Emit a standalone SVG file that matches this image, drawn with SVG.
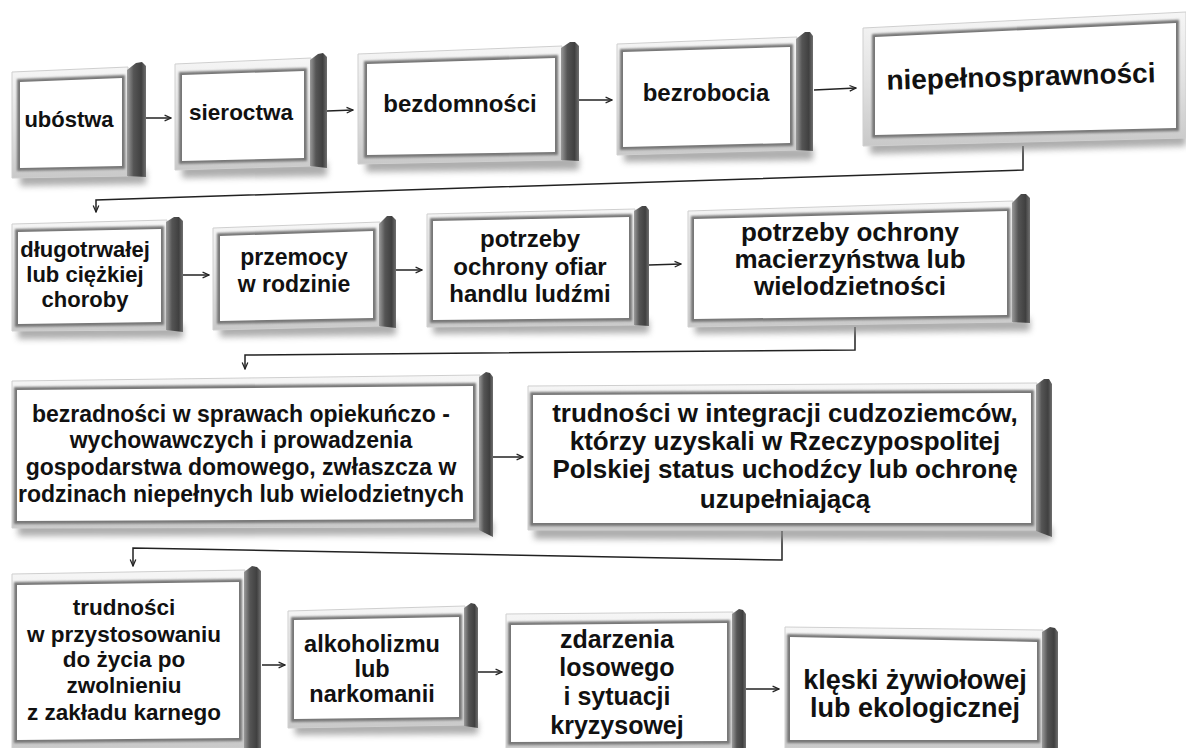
<svg xmlns="http://www.w3.org/2000/svg" width="1186" height="748" viewBox="0 0 1186 748">
<style>
.fr{fill:url(#fg);stroke:#cfcfcf;stroke-width:1}
.rim{fill:none;stroke:#777;stroke-width:6;filter:url(#br)}
.in{fill:#ffffff}
.side{fill:url(#sg)}
.sh{fill:#8a8a8a;opacity:.7;filter:url(#bs)}
.t{font-family:"Liberation Sans",Arial,sans-serif;font-weight:bold;fill:#111;text-anchor:middle}
.c{fill:none;stroke:#222;stroke-width:1.5}
</style>
<defs>
<linearGradient id="fg" x1="0" y1="0" x2="0" y2="1">
<stop offset="0" stop-color="#f6f6f6"/><stop offset="0.5" stop-color="#e2e2e2"/><stop offset="1" stop-color="#c9c9c9"/>
</linearGradient>
<linearGradient id="sg" x1="0" y1="0" x2="1" y2="0">
<stop offset="0" stop-color="#9a9a9a"/><stop offset="0.35" stop-color="#555"/><stop offset="0.75" stop-color="#404040"/><stop offset="1" stop-color="#707070"/>
</linearGradient>
<filter id="br" x="-5%" y="-5%" width="110%" height="110%"><feGaussianBlur stdDeviation="1.3"/></filter>
<filter id="bs" x="-5%" y="-50%" width="110%" height="200%"><feGaussianBlur stdDeviation="3"/></filter>
<marker id="ah" viewBox="0 0 10 10" refX="9" refY="5" markerWidth="8" markerHeight="8" orient="auto" markerUnits="userSpaceOnUse">
<path d="M1,1.5 L9,5 L1,8.5" fill="none" stroke="#222" stroke-width="1.6"/>
</marker>
</defs>
<rect width="1186" height="748" fill="#ffffff"/>

<g id="connectors">
<path class="c" marker-end="url(#ah)" d="M146,118 L171,118"/>
<path class="c" marker-end="url(#ah)" d="M327,111 L353,110"/>
<path class="c" marker-end="url(#ah)" d="M579,100 L612,100"/>
<path class="c" marker-end="url(#ah)" d="M814,90 L856,88"/>
<path class="c" marker-end="url(#ah)" d="M1023,146 L1023,170 L96,200 L96,212"/>
<path class="c" marker-end="url(#ah)" d="M183,275 L209,275"/>
<path class="c" marker-end="url(#ah)" d="M396,270 L422,270"/>
<path class="c" marker-end="url(#ah)" d="M649,265 L681,264"/>
<path class="c" marker-end="url(#ah)" d="M855,327 L855,350 L245,355 L245,369"/>
<path class="c" marker-end="url(#ah)" d="M493,457 L523,457"/>
<path class="c" marker-end="url(#ah)" d="M782,531 L782,560 L133,548 L133,566"/>
<path class="c" marker-end="url(#ah)" d="M262,665 L285,665"/>
<path class="c" marker-end="url(#ah)" d="M478,672 L502,672"/>
<path class="c" marker-end="url(#ah)" d="M746,689 L779,689"/>
</g>

<g id="n1">
<polygon class="sh" points="20,172 146,170 146,184 20,186"/>
<polygon class="fr" points="12,72 128,67 128,176 12,178"/>
<polygon class="rim" points="20,82 122,78 122,166 20,168"/>
<polygon class="in" points="20,82 122,78 122,166 20,168"/>
<path class="side" d="M127,70 L136,63 L142,62 L146,66 L146,177 L127,176 Z"/>
<text class="t" x="69" y="127" font-size="22">ubóstwa</text>
</g>

<g id="n2">
<polygon class="sh" points="182,164 327,162 327,176 182,178"/>
<polygon class="fr" points="175,64 311,58 311,166 175,170"/>
<polygon class="rim" points="182,75 304,71 304,158 182,161"/>
<polygon class="in" points="182,75 304,71 304,158 182,161"/>
<path class="side" d="M310,60 L318,54 L323,53 L327,57 L327,168 L310,166 Z"/>
<text class="t" x="241" y="120" font-size="22.5">sieroctwa</text>
</g>

<g id="n3">
<polygon class="sh" points="366,158 579,156 579,170 366,172"/>
<polygon class="fr" points="358,54 562,46 562,160 358,164"/>
<polygon class="rim" points="367,64 555,58 555,152 367,155"/>
<polygon class="in" points="367,64 555,58 555,152 367,155"/>
<path class="side" d="M561,48 L570,42 L575,42 L579,46 L579,161 L561,160 Z"/>
<text class="t" x="460" y="112" font-size="24">bezdomności</text>
</g>

<g id="n4">
<polygon class="sh" points="624,149 813,147 813,160 624,162"/>
<polygon class="fr" points="617,44 797,37 797,150 617,155"/>
<polygon class="rim" points="623,52 790,47 790,143 623,147"/>
<polygon class="in" points="623,52 790,47 790,143 623,147"/>
<path class="side" d="M796,39 L805,32 L810,32 L813,36 L813,151 L796,150 Z"/>
<text class="t" x="706" y="101" font-size="24">bezrobocia</text>
</g>

<g id="n5">
<polygon class="sh" points="870,140 1186,132 1186,146 870,154"/>
<polygon class="fr" points="863,28 1186,12 1186,138 863,146"/>
<polygon class="rim" points="875,37 1176,23 1176,128 875,135"/>
<polygon class="in" points="875,37 1176,23 1176,128 875,135"/>
<text class="t" x="1021" y="86" font-size="28" transform="rotate(-1.6 1021 80)">niepełnosprawności</text>
</g>

<g id="n6">
<polygon class="sh" points="18,326 183,325 183,338 18,339"/>
<polygon class="fr" points="12,224 167,220 167,330 12,331"/>
<polygon class="rim" points="18,232 161,229 161,322 18,324"/>
<polygon class="in" points="18,232 161,229 161,322 18,324"/>
<path class="side" d="M166,222 L174,217 L179,217 L183,221 L183,332 L166,330 Z"/>
<text class="t" font-size="22"><tspan x="85" y="257">długotrwałej</tspan><tspan x="85" y="282">lub ciężkiej</tspan><tspan x="85" y="307">choroby</tspan></text>
</g>

<g id="n7">
<polygon class="sh" points="220,323 396,322 396,335 220,337"/>
<polygon class="fr" points="213,228 380,222 380,326 213,330"/>
<polygon class="rim" points="220,236 373,231 373,318 220,321"/>
<polygon class="in" points="220,236 373,231 373,318 220,321"/>
<path class="side" d="M379,224 L387,216 L392,216 L396,220 L396,328 L379,326 Z"/>
<text class="t" font-size="23"><tspan x="294" y="265">przemocy</tspan><tspan x="294" y="292">w rodzinie</tspan></text>
</g>

<g id="n8">
<polygon class="sh" points="433,321 649,320 649,333 433,334"/>
<polygon class="fr" points="427,214 635,209 635,325 427,327"/>
<polygon class="rim" points="433,221 629,217 629,318 433,320"/>
<polygon class="in" points="433,221 629,217 629,318 433,320"/>
<path class="side" d="M634,211 L642,206 L646,206 L649,210 L649,326 L634,325 Z"/>
<text class="t" font-size="24"><tspan x="530" y="247">potrzeby</tspan><tspan x="530" y="275">ochrony ofiar</tspan><tspan x="530" y="302">handlu ludźmi</tspan></text>
</g>

<g id="n9">
<polygon class="sh" points="695,321 1030,318 1030,331 695,334"/>
<polygon class="fr" points="688,211 1013,201 1013,322 688,327"/>
<polygon class="rim" points="694,219 1007,211 1007,315 694,319"/>
<polygon class="in" points="694,219 1007,211 1007,315 694,319"/>
<path class="side" d="M1012,203 L1021,194 L1026,194 L1030,198 L1030,323 L1012,322 Z"/>
<text class="t" font-size="26"><tspan x="850" y="241">potrzeby ochrony</tspan><tspan x="850" y="268">macierzyństwa lub</tspan><tspan x="850" y="295">wielodzietności</tspan></text>
</g>

<g id="n10">
<polygon class="sh" points="18,523 493,522 493,535 18,536"/>
<polygon class="fr" points="12,381 480,375 480,527 12,528"/>
<polygon class="rim" points="17,390 473,386 473,519 17,521"/>
<polygon class="in" points="17,390 473,386 473,519 17,521"/>
<path class="side" d="M479,377 L486,372 L490,373 L493,377 L493,537 L479,530 Z"/>
<text class="t" font-size="23"><tspan x="241" y="422">bezradności w sprawach opiekuńczo -</tspan><tspan x="241" y="448">wychowawczych i prowadzenia</tspan><tspan x="241" y="475">gospodarstwa domowego, zwłaszcza w</tspan><tspan x="241" y="502">rodzinach niepełnych lub wielodzietnych</tspan></text>
</g>

<g id="n11">
<polygon class="sh" points="534,526 1052,527 1052,540 534,539"/>
<polygon class="fr" points="528,386 1037,383 1037,530 528,530"/>
<polygon class="rim" points="533,395 1031,393 1031,523 533,523"/>
<polygon class="in" points="533,395 1031,393 1031,523 533,523"/>
<path class="side" d="M1036,385 L1044,379 L1049,379 L1052,384 L1052,537 L1036,531 Z"/>
<text class="t" font-size="26"><tspan x="785" y="422">trudności w integracji cudzoziemców,</tspan><tspan x="785" y="450">którzy uzyskali w Rzeczypospolitej</tspan><tspan x="785" y="478">Polskiej status uchodźcy lub ochronę</tspan><tspan x="785" y="508">uzupełniającą</tspan></text>
</g>

<g id="n12">
<polygon class="fr" points="12,574 245,570 245,748 12,748"/>
<polygon class="rim" points="17,585 239,582 239,738 17,740"/>
<polygon class="in" points="17,585 239,582 239,738 17,740"/>
<path class="side" d="M244,572 L252,566 L257,567 L261,571 L261,748 L244,748 Z"/>
<text class="t" font-size="22.5"><tspan x="124" y="615">trudności</tspan><tspan x="124" y="642">w przystosowaniu</tspan><tspan x="124" y="667">do życia po</tspan><tspan x="124" y="693">zwolnieniu</tspan><tspan x="124" y="720">z zakładu karnego</tspan></text>
</g>

<g id="n13">
<polygon class="sh" points="295,722 478,721 478,734 295,735"/>
<polygon class="fr" points="288,611 465,606 465,725 288,728"/>
<polygon class="rim" points="294,620 459,617 459,717 294,719"/>
<polygon class="in" points="294,620 459,617 459,717 294,719"/>
<path class="side" d="M464,608 L471,603 L475,604 L478,608 L478,728 L464,726 Z"/>
<text class="t" font-size="23.5"><tspan x="372" y="652">alkoholizmu</tspan><tspan x="372" y="677">lub</tspan><tspan x="372" y="702">narkomanii</tspan></text>
</g>

<g id="n14">
<polygon class="fr" points="506,614 733,612 733,748 506,748"/>
<polygon class="rim" points="511,625 727,623 727,741 511,742"/>
<polygon class="in" points="511,625 727,623 727,741 511,742"/>
<path class="side" d="M732,614 L739,609 L743,610 L746,614 L746,748 L732,748 Z"/>
<text class="t" font-size="25"><tspan x="617" y="648">zdarzenia</tspan><tspan x="617" y="676">losowego</tspan><tspan x="617" y="705">i sytuacji</tspan><tspan x="617" y="734">kryzysowej</tspan></text>
</g>

<g id="n15">
<polygon class="fr" points="785,627 1043,630 1043,748 785,748"/>
<polygon class="rim" points="790,637 1037,642 1037,740 790,740"/>
<polygon class="in" points="790,637 1037,642 1037,740 790,740"/>
<path class="side" d="M1042,632 L1050,627 L1055,628 L1058,632 L1058,748 L1042,748 Z"/>
<text class="t" font-size="27"><tspan x="915" y="689">klęski żywiołowej</tspan><tspan x="915" y="717">lub ekologicznej</tspan></text>
</g>
</svg>
